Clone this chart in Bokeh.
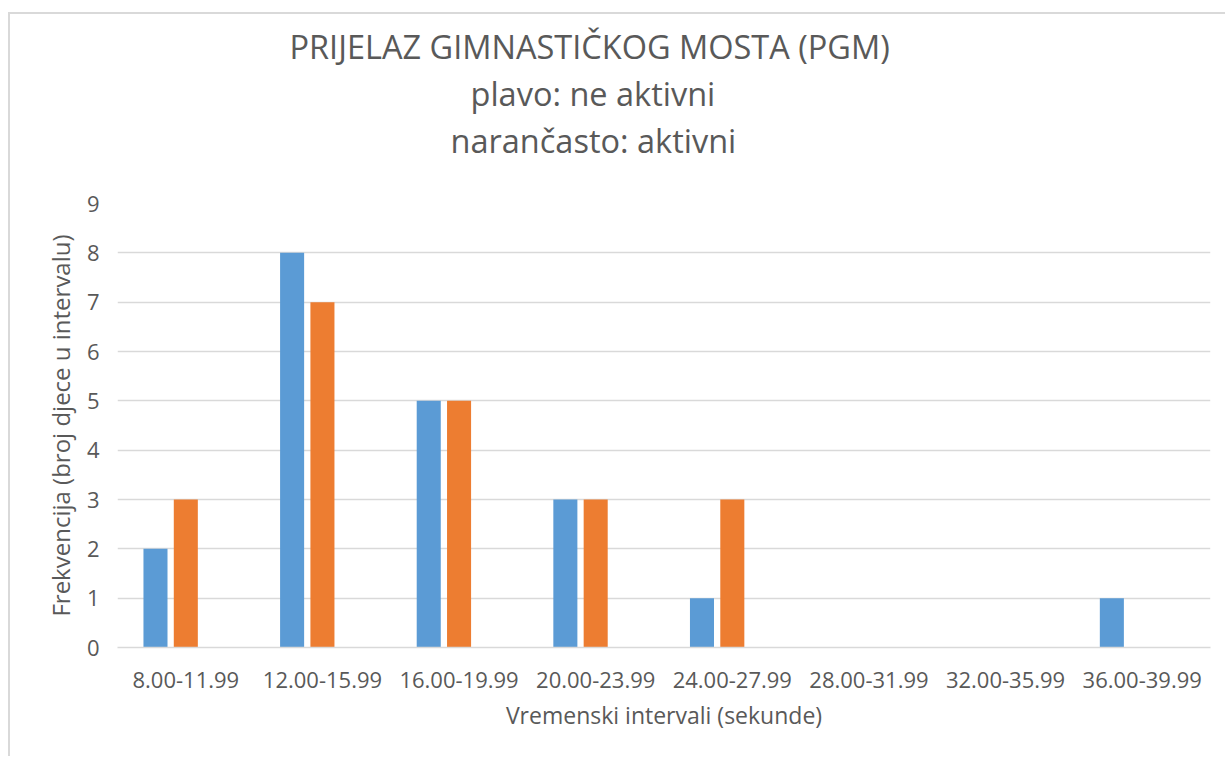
from bokeh.plotting import figure
from bokeh.models import FactorRange, Range1d, FixedTicker, ColumnDataSource, Title
from bokeh.transform import dodge
from bokeh.embed import file_html
from bokeh.resources import INLINE

categories = ["8.00-11.99", "12.00-15.99", "16.00-19.99", "20.00-23.99",
              "24.00-27.99", "28.00-31.99", "32.00-35.99", "36.00-39.99"]
ne_aktivni = [2, 8, 5, 3, 1, 0, 0, 1]
aktivni = [3, 7, 5, 3, 3, 0, 0, 0]
y_ticks = list(range(10))
title_lines = ["PRIJELAZ GIMNASTIČKOG MOSTA (PGM)", "plavo: ne aktivni", "narančasto: aktivni"]

FONT = "Open Sans"
TXT = "#595959"

src = ColumnDataSource(dict(cat=categories, blue=ne_aktivni, orange=aktivni))

W, H = 1217, 744
p = figure(x_range=FactorRange(*categories, range_padding=0), y_range=Range1d(0, 9),
           width=W, height=H, output_backend="svg", toolbar_location=None,
           min_border_left=107, min_border_right=17, min_border_top=189, min_border_bottom=111)
p.styles = {"margin-left": "8px", "margin-top": "12px",
            "border-top": "2px solid #D9D9D9", "border-left": "2px solid #D9D9D9"}
p.outline_line_color = None
p.background_fill_color = "white"
p.border_fill_color = "white"

p.vbar(x=dodge("cat", -0.222, range=p.x_range), top="blue", width=0.176, source=src,
       fill_color="#5B9BD5", line_color=None)
p.vbar(x=dodge("cat", 0.0, range=p.x_range), top="orange", width=0.176, source=src,
       fill_color="#ED7D31", line_color=None)

p.yaxis.ticker = FixedTicker(ticks=y_ticks)
p.ygrid.ticker = FixedTicker(ticks=y_ticks)
p.ygrid.grid_line_color = "#D9D9D9"
p.ygrid.grid_line_width = 1.5
p.xgrid.grid_line_color = None

for ax in (p.xaxis[0], p.yaxis[0]):
    ax.major_tick_line_color = None
    ax.minor_tick_line_color = None
    ax.major_label_text_font = FONT
    ax.major_label_text_font_size = "22px"
    ax.major_label_text_color = TXT
    ax.axis_label_text_font = FONT
    ax.axis_label_text_font_style = "normal"
    ax.axis_label_text_color = TXT
p.xaxis.axis_label_text_font_size = "23px"
p.yaxis.axis_label_text_font_size = "24px"
p.yaxis.axis_line_color = None
p.xaxis.axis_line_color = "#D9D9D9"
p.xaxis.axis_line_width = 1.5
p.xaxis.axis_label = "Vremenski intervali (sekunde)"
p.yaxis.axis_label = "Frekvencija (broj djece u intervalu)"
p.xaxis.major_label_standoff = 18
p.xaxis.axis_label_standoff = 8
p.yaxis.major_label_standoff = 12
p.yaxis.axis_label_standoff = 7

# spacer between the plot area and the title block
p.add_layout(Title(text=" ", text_font_size="1px", standoff=38), "above")

# title lines: added bottom-up (closest to the plot first)
offsets = [172, 353, 333]
for t, off in reversed(list(zip(title_lines, offsets))):
    p.add_layout(Title(text=t, align="left", offset=off, standoff=0,
                       text_font=FONT, text_font_size="32.5px",
                       text_font_style="normal", text_color=TXT), "above")

open("out.html", "w").write(file_html(p, INLINE))
